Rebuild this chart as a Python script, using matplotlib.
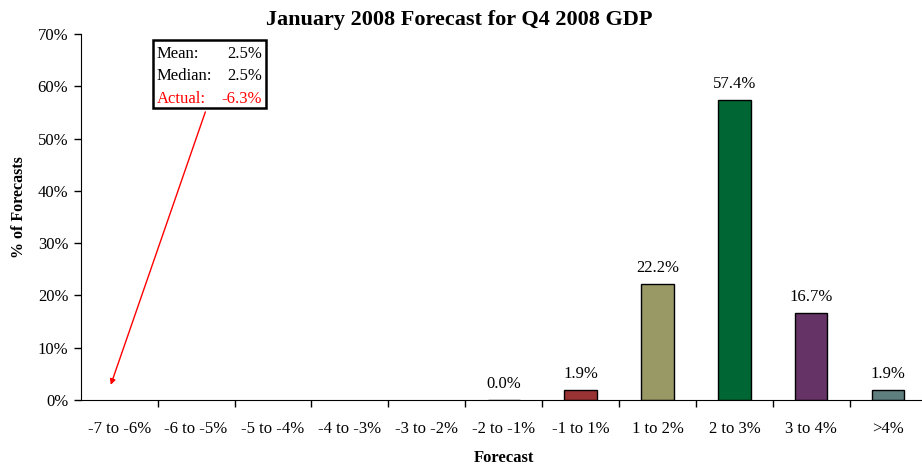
import numpy as np
import matplotlib
matplotlib.use('Agg')
import matplotlib.pyplot as plt
from matplotlib.ticker import FixedLocator, PercentFormatter

plt.rcParams['font.family'] = ['Liberation Serif', 'DejaVu Serif']

# forecast buckets and share of forecasts (%)
categories = ['-7 to -6%', '-6 to -5%', '-5 to -4%', '-4 to -3%', '-3 to -2%',
              '-2 to -1%', '-1 to 1%', '1 to 2%', '2 to 3%', '3 to 4%', '>4%']
shares = [None, None, None, None, None, 0.0, 1.9, 22.2, 57.4, 16.7, 1.9]
bar_colors = ['#993333', '#993333', '#993333', '#993333', '#993333',
              '#993333', '#993333', '#999966', '#006633', '#663366', '#5F7F7F']

mean_fc = 2.5
median_fc = 2.5
actual = -6.3

fig = plt.figure(figsize=(9.22, 4.68), dpi=100)
ax = fig.add_axes([0.0876, 0.1453, 0.9175, 0.7821])

x = np.arange(len(categories))
for xi, s, c in zip(x, shares, bar_colors):
    if s is None:
        continue
    ax.bar(xi, s, width=0.42, color=c, edgecolor='black', linewidth=1.0)
    ax.text(xi, s + 1.5, f'{s:.1f}%', ha='center', va='bottom', fontsize=12)

ax.set_xlim(-0.5, len(categories) - 0.5)
ax.set_ylim(0, 70)
ax.set_yticks(np.arange(0, 71, 10))
ax.yaxis.set_major_formatter(PercentFormatter(decimals=0))
ax.set_xticks(x)
ax.set_xticklabels(categories)
ax.xaxis.set_minor_locator(FixedLocator(np.arange(0.5, len(categories) - 1, 1)))
ax.tick_params(axis='x', which='major', length=0, pad=15, labelsize=12)
ax.tick_params(axis='x', which='minor', length=5, direction='out', width=1)
ax.tick_params(axis='y', length=5, width=1, labelsize=12, pad=4)

for side in ['top', 'right']:
    ax.spines[side].set_visible(False)

fig.suptitle('January 2008 Forecast for Q4 2008 GDP', fontsize=16,
             fontweight='bold', x=0.4985, y=0.978, va='top')
ax.set_xlabel('Forecast', fontsize=12, fontweight='bold')
ax.xaxis.set_label_coords(0.5, -0.137)
ax.set_ylabel('% of Forecasts', fontsize=11.5, fontweight='bold')
ax.yaxis.set_label_coords(-0.064, 0.527)

# summary box with arrow pointing at the actual outcome
ax.annotate('', xy=(-0.11, 2.9), xytext=(1.12, 55.1),
            arrowprops=dict(arrowstyle='-|>', color='red', lw=1.0,
                            mutation_scale=8, shrinkA=0, shrinkB=0))
fig.text(0.170, 0.885, 'Mean:', fontsize=12, va='center')
fig.text(0.284, 0.885, f'{mean_fc:.1f}%', fontsize=12, va='center', ha='right')
fig.text(0.170, 0.838, 'Median:', fontsize=12, va='center')
fig.text(0.284, 0.838, f'{median_fc:.1f}%', fontsize=12, va='center', ha='right')
fig.text(0.170, 0.789, 'Actual:', fontsize=12, va='center', color='red')
fig.text(0.284, 0.789, f'{actual:.1f}%', fontsize=12, va='center', ha='right', color='red')
box = plt.Rectangle((0.166, 0.769), 0.122, 0.146, transform=fig.transFigure,
                    fill=False, edgecolor='black', linewidth=1.8)
fig.add_artist(box)

fig.savefig('out.png', dpi=100)
